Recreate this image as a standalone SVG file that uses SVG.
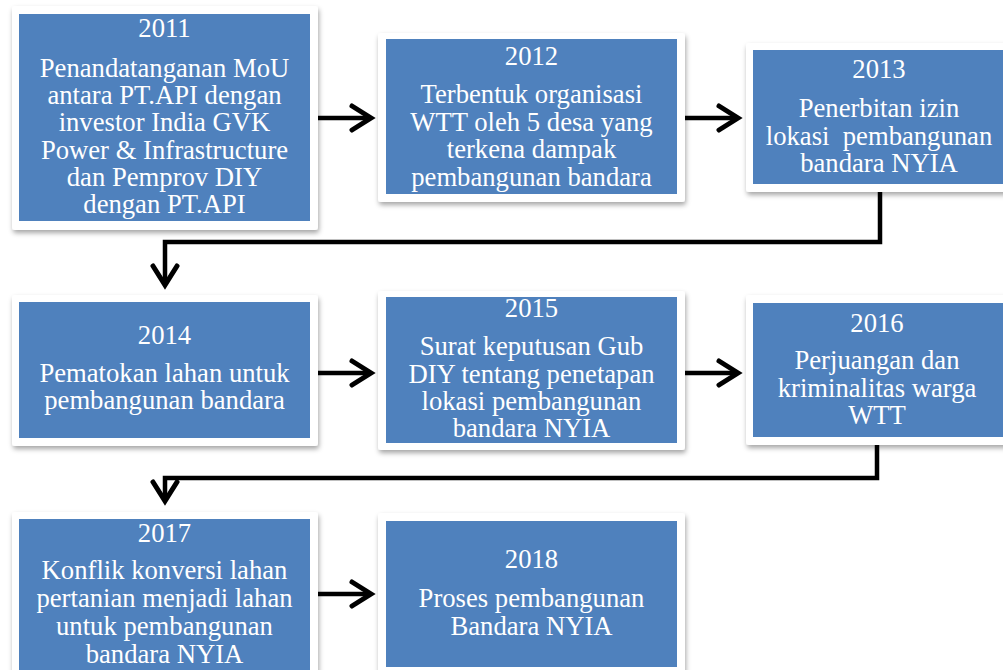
<svg xmlns="http://www.w3.org/2000/svg" width="1003" height="670" viewBox="0 0 1003 670">
<style>
.frame{fill:#ffffff;filter:url(#sh);}
.box{fill:#4f81bd;}
.t{font-family:"Liberation Serif","Times New Roman",serif;font-size:26.67px;fill:#ffffff;text-anchor:middle;}
.c{fill:none;stroke:#000000;stroke-width:4.5;stroke-linejoin:miter;}
</style>
<defs>
<filter id="sh" x="-10%" y="-10%" width="120%" height="130%">
<feDropShadow dx="1" dy="3" stdDeviation="2.5" flood-color="#000000" flood-opacity="0.35"/>
</filter>
<marker id="chev" markerUnits="userSpaceOnUse" markerWidth="40" markerHeight="40" viewBox="-30 -20 40 40" refX="0" refY="0" orient="auto" overflow="visible">
<path d="M-19,-12 L0,0 L-19,12" fill="none" stroke="#000000" stroke-width="5" stroke-linejoin="miter" stroke-linecap="round"/>
</marker>
</defs>
<rect width="1003" height="670" fill="#ffffff"/>

<g id="connectors">
<path class="c" d="M317,118 H371" marker-end="url(#chev)"/>
<path class="c" d="M684,118 H738" marker-end="url(#chev)"/>
<path class="c" d="M880,192 V242 H165 V285" marker-end="url(#chev)"/>
<path class="c" d="M318,373 H371" marker-end="url(#chev)"/>
<path class="c" d="M685,373 H738" marker-end="url(#chev)"/>
<path class="c" d="M877,445 V478 H165 V501" marker-end="url(#chev)"/>
<path class="c" d="M318,594 H371" marker-end="url(#chev)"/>
</g>

<g id="n2011">
<rect class="frame" x="12" y="6" width="306" height="224" rx="3"/>
<rect class="box" x="19" y="14" width="291" height="207"/>
<text class="t" x="164.5" y="36.5">2011</text>
<text class="t" x="164.5" y="77">Penandatanganan MoU</text>
<text class="t" x="164.5" y="104.2">antara PT.API dengan</text>
<text class="t" x="164.5" y="131.4">investor India GVK</text>
<text class="t" x="164.5" y="158.6">Power &amp; Infrastructure</text>
<text class="t" x="164.5" y="185.8">dan Pemprov DIY</text>
<text class="t" x="164.5" y="213">dengan PT.API</text>
</g>

<g id="n2012">
<rect class="frame" x="378" y="33" width="307" height="169" rx="3"/>
<rect class="box" x="386" y="39" width="291" height="155"/>
<text class="t" x="531.5" y="65">2012</text>
<text class="t" x="531.5" y="103">Terbentuk organisasi</text>
<text class="t" x="531.5" y="130.5">WTT oleh 5 desa yang</text>
<text class="t" x="531.5" y="158">terkena dampak</text>
<text class="t" x="531.5" y="185.5">pembangunan bandara</text>
</g>

<g id="n2013">
<rect class="frame" x="746" y="43" width="270" height="149" rx="3"/>
<rect class="box" x="753" y="50" width="260" height="134"/>
<text class="t" x="879" y="78">2013</text>
<text class="t" x="879" y="117">Penerbitan izin</text>
<text class="t" x="879" y="144.5" xml:space="preserve">lokasi  pembangunan</text>
<text class="t" x="879" y="172">bandara NYIA</text>
</g>

<g id="n2014">
<rect class="frame" x="12" y="295" width="306" height="151" rx="3"/>
<rect class="box" x="19" y="302" width="291" height="136"/>
<text class="t" x="164.5" y="344">2014</text>
<text class="t" x="164.5" y="382">Pematokan lahan untuk</text>
<text class="t" x="164.5" y="409">pembangunan bandara</text>
</g>

<g id="n2015">
<rect class="frame" x="378" y="291" width="307" height="159" rx="3"/>
<rect class="box" x="386" y="297" width="291" height="146"/>
<text class="t" x="531.5" y="317">2015</text>
<text class="t" x="531.5" y="355.2">Surat keputusan Gub</text>
<text class="t" x="531.5" y="382.6">DIY tentang penetapan</text>
<text class="t" x="531.5" y="410">lokasi pembangunan</text>
<text class="t" x="531.5" y="437.4">bandara NYIA</text>
</g>

<g id="n2016">
<rect class="frame" x="746" y="295" width="270" height="150" rx="3"/>
<rect class="box" x="753" y="303" width="260" height="134"/>
<text class="t" x="877" y="332">2016</text>
<text class="t" x="877" y="369">Perjuangan dan</text>
<text class="t" x="877" y="396.5">kriminalitas warga</text>
<text class="t" x="877" y="424">WTT</text>
</g>

<g id="n2017">
<rect class="frame" x="12" y="512" width="306" height="175" rx="3"/>
<rect class="box" x="19" y="519" width="291" height="165"/>
<text class="t" x="164.5" y="542">2017</text>
<text class="t" x="164.5" y="579">Konflik konversi lahan</text>
<text class="t" x="164.5" y="607">pertanian menjadi lahan</text>
<text class="t" x="164.5" y="635">untuk pembangunan</text>
<text class="t" x="164.5" y="663">bandara NYIA</text>
</g>

<g id="n2018">
<rect class="frame" x="378" y="513" width="307" height="163" rx="3"/>
<rect class="box" x="386" y="521" width="291" height="146"/>
<text class="t" x="531.5" y="568">2018</text>
<text class="t" x="531.5" y="607">Proses pembangunan</text>
<text class="t" x="531.5" y="635">Bandara NYIA</text>
</g>
</svg>
